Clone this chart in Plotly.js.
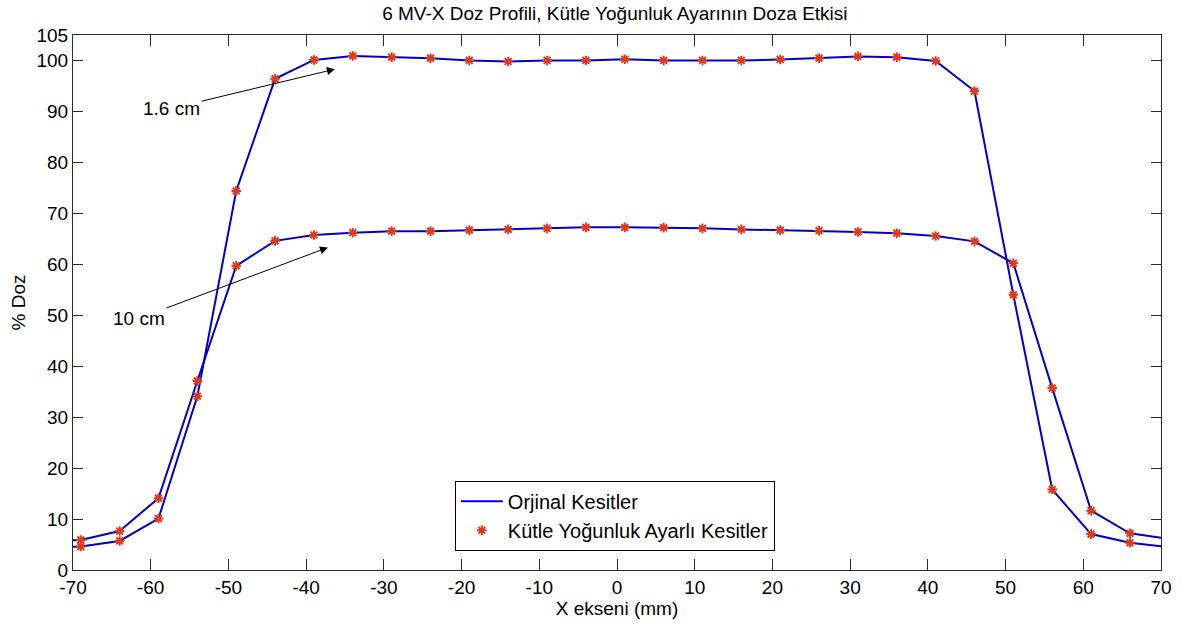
<!DOCTYPE html>
<html>
<head>
<meta charset="utf-8">
<script src="https://cdn.plot.ly/plotly-3.0.1.min.js"></script>
<style>html,body{margin:0;padding:0;background:#fff;}#chart{width:1187px;height:626px;}</style>
</head>
<body>
<div id="chart"></div>
<script>
// Data (x in mm, dose in %)
const xPos = [-74,-69,-64,-59,-54,-49,-44,-39,-34,-29,-24,-19,-14,-9,-4,1,6,11,16,21,26,31,36,41,46,51,56,61,66,71];
const dose16cm = [4.4,4.6,5.7,10.1,34.1,74.4,96.4,100.1,100.9,100.65,100.45,100.0,99.8,100.0,100.0,100.25,100.0,100.0,100.0,100.2,100.45,100.8,100.65,99.9,94.0,54.0,15.8,7.05,5.35,4.5];
const dose10cm = [5.6,5.9,7.65,14.1,37.1,59.7,64.6,65.75,66.2,66.5,66.5,66.7,66.85,67.05,67.25,67.25,67.2,67.05,66.85,66.7,66.6,66.35,66.1,65.55,64.5,60.2,35.7,11.65,7.2,6.1];
const adj16cm = dose16cm.slice();
const adj10cm = dose10cm.slice();
const yTicks = [0,10,20,30,40,50,60,70,80,90,100,105];
const xTicks = [-70,-60,-50,-40,-30,-20,-10,0,10,20,30,40,50,60,70];
const seriesNames = ['Orjinal Kesitler','Kütle Yoğunluk Ayarlı Kesitler'];
const titleText = '6 MV-X Doz Profili, Kütle Yoğunluk Ayarının Doza Etkisi';

const lineColor = '#0000c8';
const markColor = '#dd3a1c';
const font = 'Liberation Sans, Arial, sans-serif';
const fs = 19;

const traces = [
  {x:xPos, y:dose16cm, mode:'lines', name:seriesNames[0], legendgroup:'o', showlegend:true,
   line:{color:lineColor, width:2}},
  {x:xPos, y:dose10cm, mode:'lines', name:seriesNames[0], legendgroup:'o', showlegend:false,
   line:{color:lineColor, width:2}},
  {x:xPos, y:adj16cm, mode:'markers', name:seriesNames[1], legendgroup:'k', showlegend:true,
   marker:{symbol:'asterisk-open', size:8, color:markColor, line:{color:markColor, width:2}}},
  {x:xPos, y:adj10cm, mode:'markers', name:seriesNames[1], legendgroup:'k', showlegend:false,
   marker:{symbol:'asterisk-open', size:8, color:markColor, line:{color:markColor, width:2}}}
];

const axisCommon = {
  showgrid:false, zeroline:false, showline:true, linecolor:'#2a2a2a', linewidth:1,
  mirror:'ticks', ticks:'inside', ticklen:11, tickcolor:'#2a2a2a', tickwidth:1,
  tickfont:{family:font, size:fs, color:'#000'}
};

const layout = {
  width:1187, height:626,
  margin:{l:73, r:26, t:35, b:56},
  paper_bgcolor:'#fff', plot_bgcolor:'#fff',
  font:{family:font, color:'#000'},
  title:{text:titleText, font:{family:font, size:fs, color:'#000'}, x:0.518, xanchor:'center', y:0.978, yanchor:'middle'},
  xaxis:Object.assign({}, axisCommon, {range:[-70,70], tickvals:xTicks, ticktext:xTicks.map(String),
    title:{text:'X ekseni (mm)', font:{family:font, size:fs}, standoff:0}}),
  yaxis:Object.assign({}, axisCommon, {range:[0,105], tickvals:yTicks, ticktext:yTicks.map(String), ticklen:10,
    title:{text:'% Doz', font:{family:font, size:fs}, standoff:5}}),
  legend:{x:0.498, y:0.036, xanchor:'center', yanchor:'bottom', bgcolor:'#fff', bordercolor:'#000', borderwidth:1,
    font:{family:font, size:20, color:'#000'}, tracegroupgap:0, itemwidth:42},
  showlegend:true,
  annotations:[
    {x:-36.3, y:98.3, xref:'x', yref:'y', ax:-57.3, ay:90.6, axref:'x', ayref:'y', text:'1.6 cm',
     showarrow:true, arrowhead:2, arrowsize:1.6, arrowwidth:1, arrowcolor:'#000', font:{family:font, size:fs, color:'#000'}},
    {x:-37.2, y:63.3, xref:'x', yref:'y', ax:-61.5, ay:49.4, axref:'x', ayref:'y', text:'10 cm',
     showarrow:true, arrowhead:2, arrowsize:1.6, arrowwidth:1, arrowcolor:'#000', font:{family:font, size:fs, color:'#000'}}
  ]
};

Plotly.newPlot('chart', traces, layout, {displayModeBar:false, staticPlot:true});
</script>
</body>
</html>
